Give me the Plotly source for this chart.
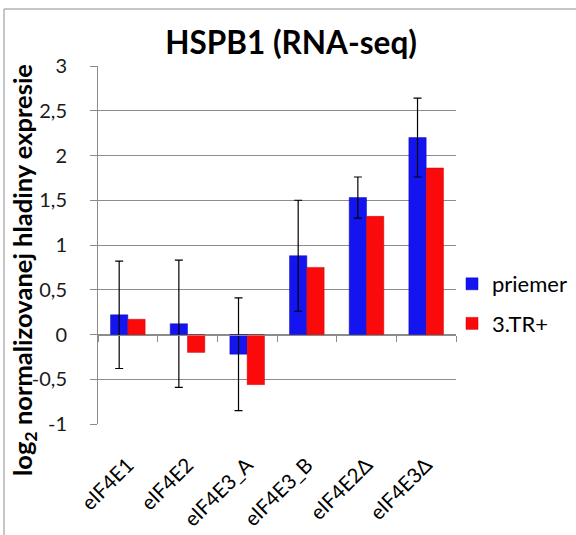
import plotly.graph_objects as go

# HSPB1 expression (RNA-seq), log2 of normalized levels
categories = ["eIF4E1", "eIF4E2", "eIF4E3_A", "eIF4E3_B", "eIF4E2Δ", "eIF4E3Δ"]
priemer = [0.22, 0.12, -0.22, 0.88, 1.53, 2.20]
priemer_err = [0.60, 0.71, 0.63, 0.62, 0.23, 0.44]
tr_plus = [0.17, -0.20, -0.56, 0.75, 1.32, 1.86]
y_ticks = [-1, -0.5, 0, 0.5, 1, 1.5, 2, 2.5, 3]
y_tick_text = ["-1", "-0,5", "0", "0,5", "1", "1,5", "2", "2,5", "3"]

FONT = "Lato"
GRID = "#8c8c8c"

fig = go.Figure()
fig.add_trace(go.Bar(
    x=categories, y=priemer, name="priemer",
    marker=dict(color="#1414f0", line=dict(color="#0a0ab4", width=0.5)),
    error_y=dict(type="data", array=priemer_err, visible=True,
                 color="black", thickness=1.2, width=4),
    legendgroup="a",
))
fig.add_trace(go.Bar(
    x=categories, y=tr_plus, name="3.TR+",
    marker=dict(color="#fa0a0a", line=dict(color="#c80000", width=0.5)),
    legendgroup="b",
))
# carrier for the category axis drawn along y = 0
fig.add_trace(go.Scatter(
    x=categories, y=priemer, xaxis="x2", mode="markers",
    marker=dict(opacity=0), showlegend=False, hoverinfo="skip",
))

fig.update_layout(
    width=576, height=535,
    margin=dict(l=98, r=120, t=66, b=111, autoexpand=False),
    paper_bgcolor="white", plot_bgcolor="white",
    barmode="group", bargap=0.42, bargroupgap=0,
    font=dict(family=FONT, color="#1a1a1a"),
    title=dict(text="<b>HSPB1 (RNA-seq)</b>", x=291 / 576, xanchor="center",
               y=1 - 43 / 535, yanchor="middle",
               font=dict(family=FONT, size=31.5, color="black")),
    xaxis=dict(range=[-0.5, 5.5], tickangle=-45, showgrid=False, showline=False,
               ticks="", tickfont=dict(family=FONT, size=20.5, color="black"),
               ticklabelstandoff=24, zeroline=False, automargin=False),
    xaxis2=dict(range=[-0.5, 5.5], overlaying="x", anchor="free", position=0.25,
                showticklabels=False, ticks="outside", tickson="boundaries",
                ticklen=6, tickcolor=GRID, showline=True, linecolor=GRID,
                linewidth=1, showgrid=False, zeroline=False),
    yaxis=dict(range=[-1, 3], tickvals=y_ticks, ticktext=y_tick_text,
               showgrid=True, gridcolor=GRID, gridwidth=1,
               zeroline=False, showline=True, linecolor=GRID, linewidth=1,
               ticks="outside", ticklen=7, tickcolor=GRID,
               ticklabelstandoff=19, automargin=False,
               tickfont=dict(family=FONT, size=20, color="#1a1a1a")),
    legend=dict(xref="container", yref="container",
                x=452 / 576, y=1 - 263 / 535, xanchor="left", yanchor="top",
                font=dict(family=FONT, size=22, color="black"),
                itemwidth=30, tracegroupgap=8, bgcolor="rgba(0,0,0,0)"),
    annotations=[dict(
        text="<b>log<sub>2</sub> normalizovanej hladiny expresie</b>",
        textangle=-90, xref="paper", yref="paper",
        x=(24 - 98) / 358, y=(424 - 270) / 358,
        xanchor="center", yanchor="middle", showarrow=False,
        font=dict(family=FONT, size=25.5, color="black"),
    )],
    shapes=[dict(type="rect", xref="paper", yref="paper",
                 x0=(4 - 98) / 358, x1=1.5, y0=-0.5, y1=(424 - 9) / 358,
                 line=dict(color="#8c8c8c", width=1), fillcolor="rgba(0,0,0,0)",
                 layer="below")],
)

fig.write_html("out.html")
